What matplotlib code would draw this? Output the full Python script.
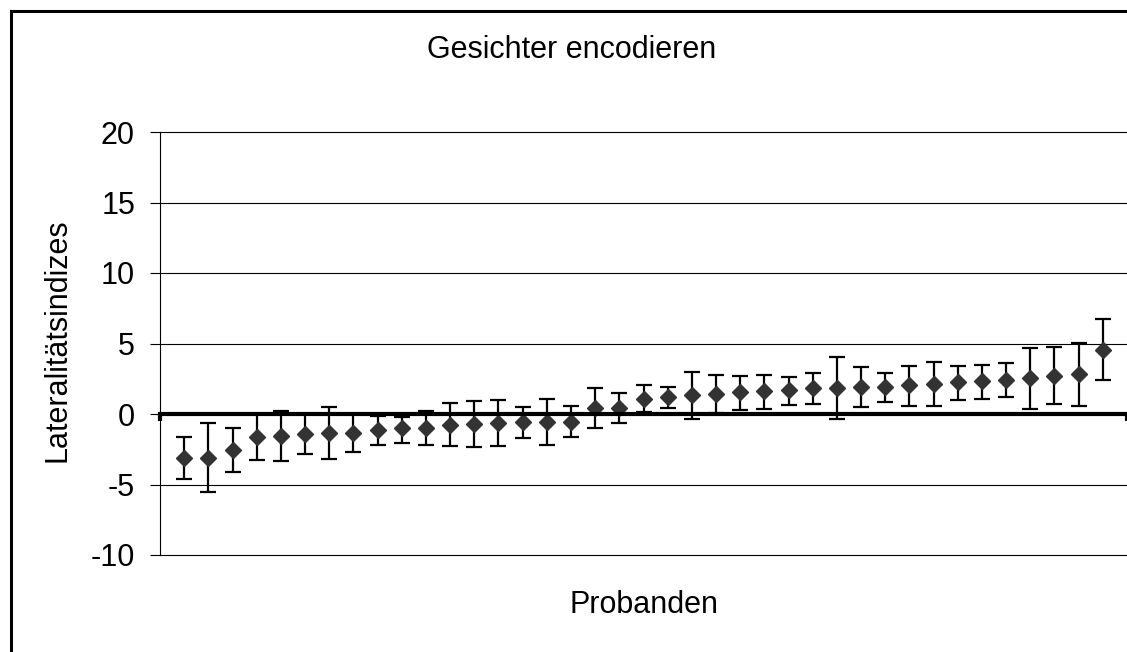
import matplotlib
matplotlib.use("Agg")
import matplotlib.pyplot as plt
from matplotlib.lines import Line2D
import numpy as np

plt.rcParams['font.family'] = ['Liberation Sans', 'DejaVu Sans']

# Werte (Mittelwert, obere und untere Fehlergrenze)
probanden = np.arange(1, 40)
li_mean = [-3.12, -3.12, -2.58, -1.61, -1.58, -1.44, -1.35, -1.32, -1.11, -1.02,
           -1.02, -0.76, -0.69, -0.64, -0.59, -0.57, -0.57, 0.40, 0.42, 1.08,
           1.23, 1.32, 1.42, 1.58, 1.63, 1.72, 1.84, 1.86, 1.89, 1.91,
           2.03, 2.12, 2.27, 2.31, 2.41, 2.55, 2.71, 2.85, 4.55]
li_upper = [-1.61, -0.66, -0.99, 0.0, 0.22, 0.0, 0.47, 0.0, -0.17, -0.21,
            0.18, 0.78, 0.94, 1.01, 0.47, 1.06, 0.54, 1.84, 1.51, 2.08,
            1.91, 3.00, 2.80, 2.73, 2.78, 2.62, 2.92, 4.04, 3.30, 2.92,
            3.42, 3.68, 3.42, 3.49, 3.63, 4.67, 4.74, 5.03, 6.73]
li_lower = [-4.60, -5.52, -4.11, -3.26, -3.35, -2.86, -3.21, -2.67, -2.22, -2.06,
            -2.17, -2.29, -2.32, -2.25, -1.68, -2.20, -1.63, -0.99, -0.66, 0.15,
            0.42, -0.33, 0.10, 0.30, 0.37, 0.66, 0.71, -0.33, 0.47, 0.87,
            0.54, 0.54, 1.01, 1.08, 1.20, 0.37, 0.71, 0.59, 2.41]

mean = np.array(li_mean)
yerr = [mean - np.array(li_lower), np.array(li_upper) - mean]

W, H = 1127, 652
fig = plt.figure(figsize=(W / 100, H / 100), dpi=100)
fig.patch.set_facecolor('white')

ax = fig.add_axes([160 / W, 1 - 555 / H, (W - 160) / W, 423 / H])

ax.errorbar(probanden, mean, yerr=yerr, fmt='D', color='#333333',
            markeredgecolor='#333333', markersize=8.5, ecolor='black',
            elinewidth=1.6, capsize=5.8, capthick=1.6, zorder=3)

ax.set_xlim(0, 40)
ax.set_ylim(-10, 20)
ax.set_yticks([-10, -5, 0, 5, 10, 15, 20])
ax.set_yticklabels(['-10', '-5', '0', '5', '10', '15', '20'])
ax.yaxis.grid(True, color='black', linewidth=0.8)
for gl in ax.get_ygridlines():
    gl.set_clip_on(False)
ax.set_axisbelow(True)

ax.spines['top'].set_visible(False)
ax.spines['right'].set_visible(False)
ax.spines['left'].set_linewidth(0.8)
ax.spines['bottom'].set_position(('data', 0))
ax.spines['bottom'].set_linewidth(3)
ax.spines['bottom'].set_zorder(4)

ax.set_xticks([0, 40])
ax.set_xticklabels([])
ax.tick_params(axis='x', direction='out', length=5, width=3)
ax.tick_params(axis='y', direction='out', length=7.2, width=0.8, pad=10.8,
               labelsize=22)

ax.text(-0.1055, 0.508, 'Lateralitätsindizes', transform=ax.transAxes,
        rotation=90, ha='center', va='center', fontsize=22)
ax.text(0.5, -50 / 423, 'Probanden', transform=ax.transAxes,
        ha='center', va='center', fontsize=22)
fig.text(572 / W, 1 - 50 / H, 'Gesichter encodieren', ha='center',
         va='center', fontsize=22)

# Rahmen links und oben
fig.add_artist(Line2D([10.5 / W, 10.5 / W], [0, 1 - 10.5 / H],
                      transform=fig.transFigure, color='black', linewidth=2.2))
fig.add_artist(Line2D([10.5 / W, 1], [1 - 10.5 / H, 1 - 10.5 / H],
                      transform=fig.transFigure, color='black', linewidth=2.2))

fig.savefig('out.png', dpi=100)
